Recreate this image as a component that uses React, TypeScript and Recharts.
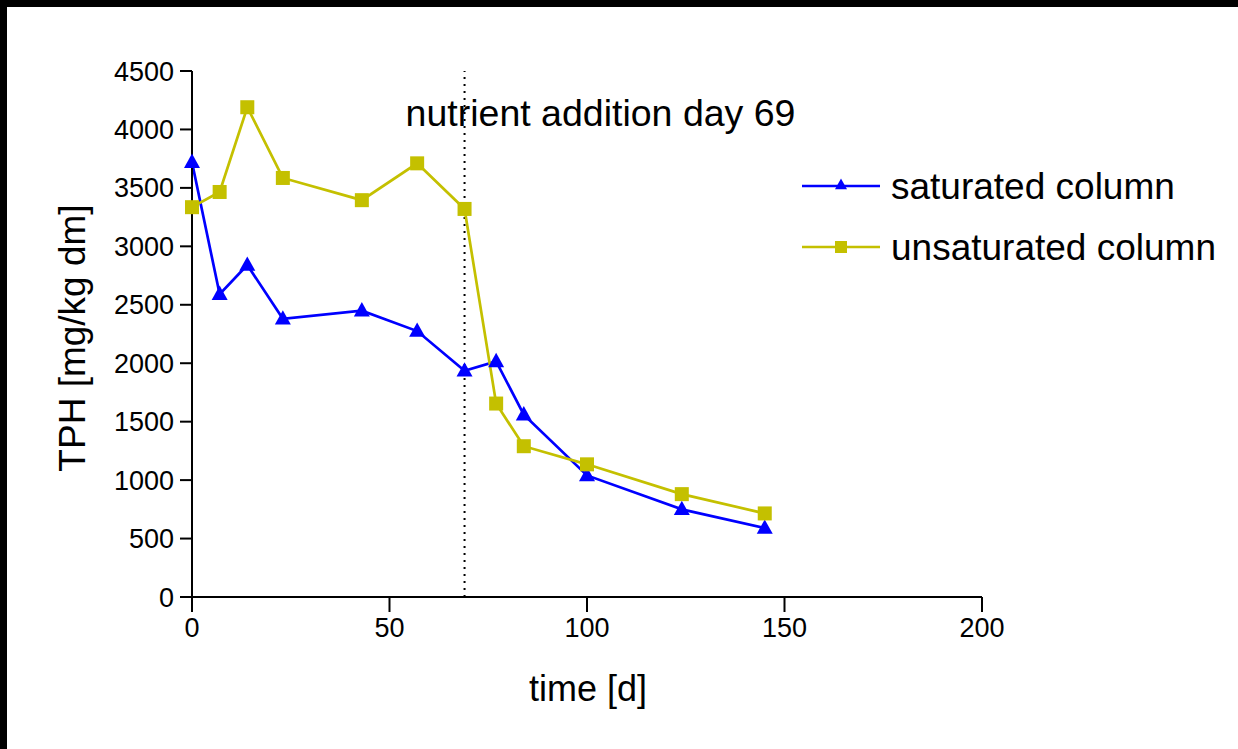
import {
  LineChart, Line, XAxis, YAxis, ReferenceLine, Label,
} from 'recharts';

const days = [0, 7, 14, 23, 43, 57, 69, 77, 84, 100, 124, 145];
const saturated = [3720, 2590, 2840, 2380, 2450, 2275, 1935, 2015, 1560, 1040, 750, 590];
const unsaturated = [3335, 3465, 4190, 3585, 3395, 3710, 3320, 1655, 1290, 1135, 880, 715];
const xTicks = [0, 50, 100, 150, 200];
const yTicks = [0, 500, 1000, 1500, 2000, 2500, 3000, 3500, 4000, 4500];

const BLUE = '#0000ff';
const OLIVE = '#c4c000';
const FONT = '"Liberation Sans", Arial, sans-serif';

const data = days.map((d, i) => ({ day: d, sat: saturated[i], unsat: unsaturated[i] }));

function Triangle({ cx, cy, color, size = 8 }: any) {
  if (cx == null || cy == null) return null;
  const h = size * 1.8;
  return (
    <path
      d={`M${cx},${cy - h * 0.6} L${cx + size},${cy + h * 0.4} L${cx - size},${cy + h * 0.4} Z`}
      fill={color}
    />
  );
}

function Square({ cx, cy, color, size = 7 }: any) {
  if (cx == null || cy == null) return null;
  return <rect x={cx - size} y={cy - size} width={size * 2} height={size * 2} fill={color} />;
}

function LegendBox() {
  const rows = [
    { name: 'saturated column', color: BLUE, kind: 'tri' },
    { name: 'unsaturated column', color: OLIVE, kind: 'sq' },
  ];
  return (
    <svg width={438} height={120} style={{ display: 'block' }}>
      {rows.map((r, i) => {
        const y = 21 + i * 61;
        return (
          <g key={r.name}>
            <line x1={2} x2={80} y1={y} y2={y} stroke={r.color} strokeWidth={2.5} />
            {r.kind === 'tri'
              ? <Triangle cx={41} cy={y - 1} color={r.color} size={6} />
              : <Square cx={41} cy={y} color={r.color} size={6} />}
            <text x={91} y={y + 13} fontSize={37} fontFamily={FONT} fill="#000">{r.name}</text>
          </g>
        );
      })}
    </svg>
  );
}

export default function App() {
  return (
    <div style={{ position: 'absolute', left: 0, top: 0, width: 1238, height: 749, background: '#000', overflow: 'hidden' }}>
      <div style={{ position: 'absolute', left: 7, top: 7, right: 0, bottom: 0, background: '#fff' }} />
      <div style={{ position: 'absolute', left: 0, top: 0 }}>
        <LineChart
          width={1238}
          height={749}
          data={data}
          margin={{ top: 71, right: 256, bottom: 92, left: 112 }}
        >
          <XAxis
            dataKey="day"
            type="number"
            domain={[0, 200]}
            ticks={xTicks}
            height={60}
            tickSize={15}
            tickMargin={6}
            stroke="#000"
            strokeWidth={2}
            tick={{ fill: '#000', fontSize: 27, fontFamily: FONT }}
          >
            <Label
              content={({ viewBox }: any) => (
                <text
                  x={viewBox.x + viewBox.width / 2 + 1}
                  y={viewBox.y + 104}
                  textAnchor="middle"
                  fontSize={36}
                  fontFamily={FONT}
                  fill="#000"
                >
                  time [d]
                </text>
              )}
            />
          </XAxis>
          <YAxis
            type="number"
            domain={[0, 4500]}
            ticks={yTicks}
            width={80}
            tickSize={12}
            tickMargin={6}
            stroke="#000"
            strokeWidth={2}
            tick={{ fill: '#000', fontSize: 27, fontFamily: FONT }}
          >
            <Label
              content={({ viewBox }: any) => {
                const x = viewBox.x - 40;
                const y = viewBox.y + viewBox.height / 2 + 4;
                return (
                  <text
                    x={x}
                    y={y}
                    transform={`rotate(-90 ${x} ${y})`}
                    textAnchor="middle"
                    dominantBaseline="central"
                    fontSize={37}
                    fontFamily={FONT}
                    fill="#000"
                  >
                    TPH [mg/kg dm]
                  </text>
                );
              }}
            />
          </YAxis>
          <ReferenceLine
            x={69}
            stroke="#000"
            strokeWidth={2}
            strokeDasharray="2 5"
            label={({ viewBox }: any) => (
              <text
                x={viewBox.x + 136}
                y={viewBox.y + 55}
                textAnchor="middle"
                fontSize={37.5}
                fontFamily={FONT}
                fill="#000"
              >
                nutrient addition day 69
              </text>
            )}
          />
          <Line
            dataKey="sat"
            stroke={BLUE}
            strokeWidth={2.7}
            isAnimationActive={false}
            dot={(p: any) => <Triangle key={`s${p.index}`} cx={p.cx} cy={p.cy} color={BLUE} />}
            activeDot={false}
          />
          <Line
            dataKey="unsat"
            stroke={OLIVE}
            strokeWidth={2.7}
            isAnimationActive={false}
            dot={(p: any) => <Square key={`u${p.index}`} cx={p.cx} cy={p.cy} color={OLIVE} />}
            activeDot={false}
          />
        </LineChart>
      </div>
      <div style={{ position: 'absolute', left: 800, top: 165 }}>
        <LegendBox />
      </div>
    </div>
  );
}
